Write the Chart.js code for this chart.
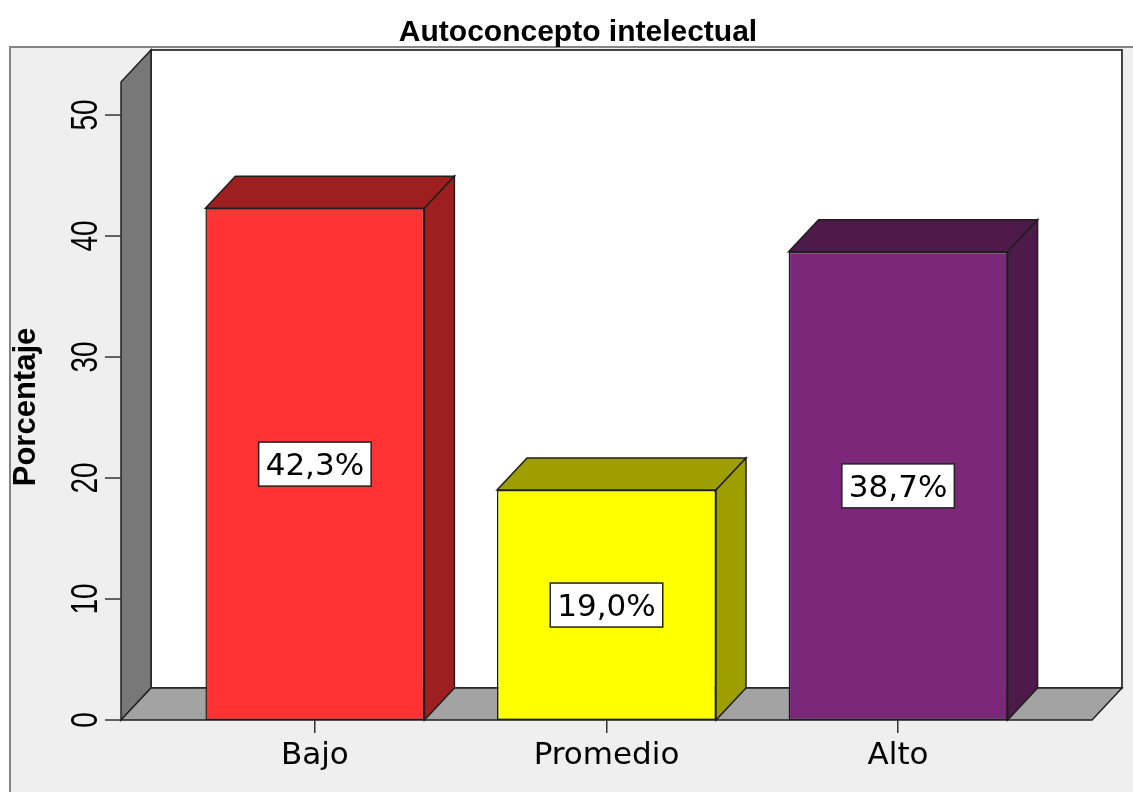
<!DOCTYPE html>
<html>
<head>
<meta charset="utf-8">
<script src="https://cdn.jsdelivr.net/npm/chart.js@4.4.1/dist/chart.umd.min.js"></script>
<style>
  html, body { margin: 0; padding: 0; background: #fff; overflow: hidden; }
</style>
</head>
<body>
<canvas id="chart" width="1133" height="792"></canvas>
<script>
// ── Data ──────────────────────────────────────────────────────────────────────
const categories  = ["Bajo", "Promedio", "Alto"];
const percentages = [42.3, 19.0, 38.7];
const yTickValues = [0, 10, 20, 30, 40, 50];

// ── Look ──────────────────────────────────────────────────────────────────────
const FRONT_COLORS = ["#ff3333", "#ffff00", "#7b2879"];
const SHADE_COLORS = ["#9e1f1f", "#9e9e00", "#4e1a4a"];
const DX = 30;   // 3D depth, to the right
const DY = -32;  // 3D depth, upwards
const EDGE = "#1e1e1e";

function poly(ctx, pts, fill, stroke = EDGE, lw = 1.5) {
  ctx.beginPath();
  ctx.moveTo(pts[0][0], pts[0][1]);
  for (let i = 1; i < pts.length; i++) ctx.lineTo(pts[i][0], pts[i][1]);
  ctx.closePath();
  ctx.fillStyle = fill;
  ctx.fill();
  ctx.lineWidth = lw;
  ctx.strokeStyle = stroke;
  ctx.stroke();
}

const fmtPct = (v) => v.toFixed(1).replace(".", ",") + "%";

// Room (back wall, side wall, floor), frame, y axis ticks
const room3d = {
  id: "room3d",
  beforeDraw(chart) {
    const { ctx, chartArea: a, scales: { y } } = chart;
    const base = y.getPixelForValue(0);
    const top = a.top;
    ctx.save();
    ctx.fillStyle = "#fff";
    ctx.fillRect(0, 0, chart.width, chart.height);
    ctx.fillStyle = "#efefef";
    ctx.fillRect(10, 47, chart.width, chart.height);
    ctx.strokeStyle = "#858585";
    ctx.lineWidth = 2;
    ctx.strokeRect(10, 47, chart.width + 20, chart.height + 20);

    poly(ctx, [[a.left + DX, top + DY], [a.right + DX, top + DY], [a.right + DX, base + DY], [a.left + DX, base + DY]], "#ffffff", "#444", 2);
    poly(ctx, [[a.left, top], [a.left + DX, top + DY], [a.left + DX, base + DY], [a.left, base]], "#787878", "#222", 1.5);
    poly(ctx, [[a.left, base], [a.left + DX, base + DY], [a.right + DX, base + DY], [a.right, base]], "#a3a3a3", "#222", 1.5);

    // y ticks + rotated labels
    ctx.strokeStyle = "#333";
    ctx.lineWidth = 1.5;
    ctx.fillStyle = "#000";
    ctx.font = "28px 'Liberation Sans', Arial, sans-serif";
    ctx.textAlign = "center";
    ctx.textBaseline = "alphabetic";
    yTickValues.forEach((v) => {
      const py = y.getPixelForValue(v);
      ctx.beginPath();
      ctx.moveTo(a.left - 16, py);
      ctx.lineTo(a.left, py);
      ctx.stroke();
      ctx.save();
      ctx.translate(a.left - 24, py);
      ctx.rotate(-Math.PI / 2);
      ctx.scale(1, 1.35);
      ctx.fillText(String(v), 0, 0);
      ctx.restore();
    });

    // axis title
    ctx.save();
    ctx.font = "bold 31px 'Liberation Sans', Arial, sans-serif";
    ctx.translate(35, (top + base) / 2 + 6);
    ctx.rotate(-Math.PI / 2);
    ctx.fillText("Porcentaje", 0, 0);
    ctx.restore();

    // chart title
    ctx.font = "bold 30px 'Liberation Sans', Arial, sans-serif";
    ctx.fillText("Autoconcepto intelectual", 578, 41);
    ctx.restore();
  },
  afterDatasetsDraw(chart) {
    const { ctx, scales: { y } } = chart;
    const meta = chart.getDatasetMeta(0);
    ctx.save();
    meta.data.forEach((bar, i) => {
      const { x, y: top, base, width } = bar.getProps(["x", "y", "base", "width"], true);
      const l = x - width / 2, r = x + width / 2;
      poly(ctx, [[l, top], [l + DX, top + DY], [r + DX, top + DY], [r, top]], SHADE_COLORS[i]);
      poly(ctx, [[r, top], [r + DX, top + DY], [r + DX, base + DY], [r, base]], SHADE_COLORS[i]);
    });

    // value boxes in the middle of each bar
    ctx.font = "31px 'DejaVu Sans', sans-serif";
    ctx.textAlign = "center";
    ctx.textBaseline = "alphabetic";
    meta.data.forEach((bar, i) => {
      const v = percentages[i];
      const txt = fmtPct(v);
      const cy = y.getPixelForValue(v / 2);
      const w = ctx.measureText(txt).width + 14;
      const h = 44;
      ctx.fillStyle = "#fff";
      ctx.fillRect(bar.x - w / 2, cy - h / 2, w, h);
      ctx.lineWidth = 1.5;
      ctx.strokeStyle = "#222";
      ctx.strokeRect(bar.x - w / 2, cy - h / 2, w, h);
      ctx.fillStyle = "#000";
      ctx.fillText(txt, bar.x, cy + 11);
    });
    ctx.restore();
  },
};

new Chart(document.getElementById("chart"), {
  type: "bar",
  data: {
    datasets: [
      {
        data:            percentages.map((v, i) => ({ x: i, y: v })),
        backgroundColor: FRONT_COLORS,
        borderColor:     EDGE,
        borderWidth:     1.5,
        borderSkipped:   false,
        categoryPercentage: 1,
        barPercentage:   0.751,
      },
    ],
  },
  options: {
    responsive: false,
    animation: false,
    devicePixelRatio: 1,
    layout: { padding: { left: 121, top: 82, right: 41, bottom: 0 } },
    plugins: {
      legend:  { display: false },
      tooltip: { enabled: false },
    },
    scales: {
      x: {
        type: "linear",
        position: "bottom",
        offset: false,
        min: -0.665,
        max: 2.665,
        afterFit: (s) => { s.height = 72; },
        border: { display: false },
        grid: { offset: false, drawOnChartArea: false, tickLength: 13, color: "#333", lineWidth: 1.5 },
        ticks: {
          stepSize: 1,
          includeBounds: false,
          autoSkip: false,
          maxRotation: 0,
          padding: 4,
          color: "#000",
          font: { family: "'DejaVu Sans', sans-serif", size: 31 },
          callback: (v) => categories[v] ?? "",
        },
      },
      y: {
        display: false,
        min: 0,
        max: 52.73,
        afterBuildTicks: (s) => { s.ticks = yTickValues.map((value) => ({ value })); },
      },
    },
  },
  plugins: [room3d],
});
</script>
</body>
</html>
